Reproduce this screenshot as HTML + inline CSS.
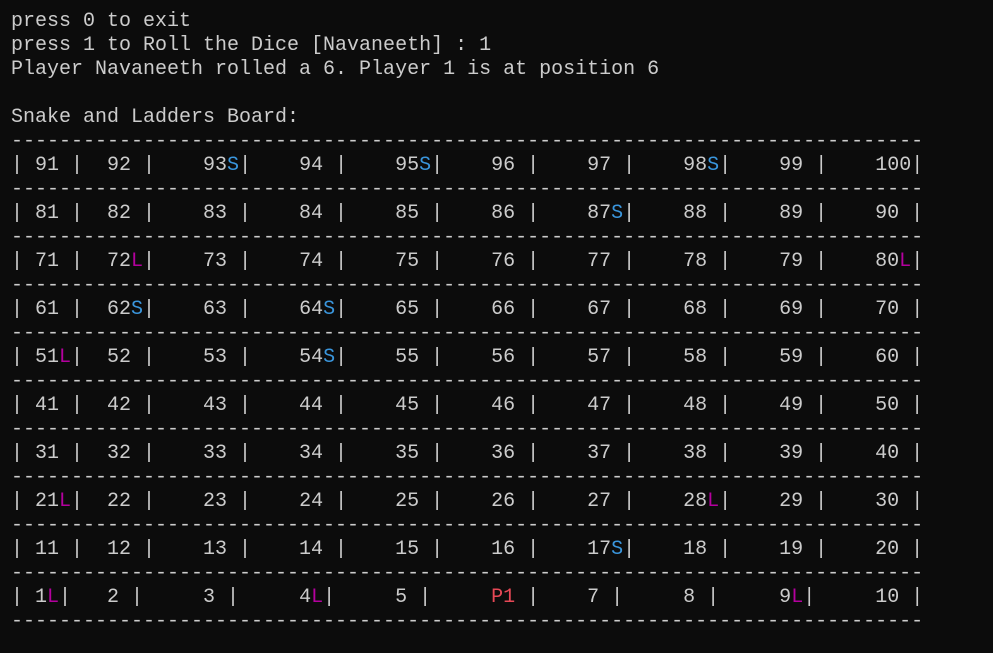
<!DOCTYPE html>
<html><head><meta charset="utf-8">
<style>
html,body{margin:0;padding:0;background:#0c0c0c;width:993px;height:653px;overflow:hidden}
#term{position:absolute;left:11px;top:10px;font-family:"Liberation Mono",monospace;font-size:20px;line-height:24px;color:#cccccc}
.ln{height:24px;white-space:pre}
.S{color:#3a96dd}.L{color:#b4009e}.P{color:#e74856}
</style></head>
<body><div id="term"><div class="ln">press 0 to exit</div><div class="ln">press 1 to Roll the Dice [Navaneeth] : 1</div><div class="ln">Player Navaneeth rolled a 6. Player 1 is at position 6</div><div class="ln"> </div><div class="ln">Snake and Ladders Board:</div><div id="board"></div></div>
<script>
const snakes = [93,95,98,87,62,64,54,17];
const ladders = [72,80,51,21,28,1,4,9];
const playerPos = 6;
const starts = [2,8,16,24,32,40,48,56,64,72];
const board = document.getElementById('board');
const dash = '-'.repeat(76);
function sep(){
  const d=document.createElement('div');d.className='ln';d.textContent=dash;
  
  
  board.appendChild(d);
}
sep();
for(let r=9;r>=0;r--){
  const cells=new Array(76).fill(null).map(()=>({c:' ',k:''}));
  cells[0].c='|';
  for(let j=0;j<10;j++){
    const n=r*10+j+1;const s=starts[j];
    let txt=String(n),k='';
    if(n===playerPos){txt='P1';k='P';}
    for(let i=0;i<txt.length;i++){cells[s+i]={c:txt[i],k:k};}
    let p=s+txt.length;
    if(snakes.includes(n)){cells[p]={c:'S',k:'S'};p++;}
    else if(ladders.includes(n)){cells[p]={c:'L',k:'L'};p++;}
    else if(n!==100){p++;}
    cells[p]={c:'|',k:''};
  }
  const d=document.createElement('div');d.className='ln';
  
  
  let html='',cur=null,buf='';
  const flush=()=>{if(buf){html+=cur?'<span class="'+cur+'">'+buf+'</span>':buf;}buf='';};
  for(const c of cells){if(c.k!==cur){flush();cur=c.k;}buf+=c.c;}
  flush();
  d.innerHTML=html;
  board.appendChild(d);
  sep();
}
</script>
</body></html>
